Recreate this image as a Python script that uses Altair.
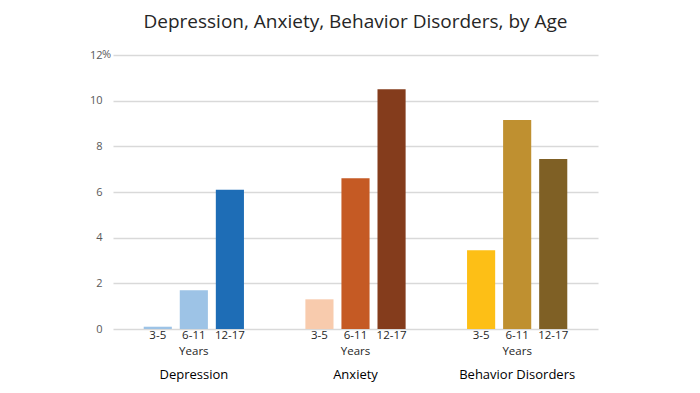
import altair as alt
import pandas as pd

categories = ["Depression", "Anxiety", "Behavior Disorders"]
ages = ["3-5", "6-11", "12-17"]
depression = [0.1, 1.7, 6.1]
anxiety = [1.3, 6.6, 10.5]
behavior = [3.45, 9.15, 7.45]
series = [depression, anxiety, behavior]
colors = [
    ["#9dc3e6", "#9dc3e6", "#1e6db6"],
    ["#f8cbad", "#c55a24", "#843c1c"],
    ["#fdbf16", "#bf9030", "#7f6025"],
]
y_ticks = [0, 2, 4, 6, 8, 10, 12]

rows = []
for ci, cat in enumerate(categories):
    for ai, age in enumerate(ages):
        rows.append({"category": cat, "age": age, "value": series[ci][ai],
                     "key": f"{cat}|{age}", "color": colors[ci][ai]})
df = pd.DataFrame(rows)
keys = list(df["key"])
cols = list(df["color"])

FONT = "Open Sans"
H = 274
W = 485

x_enc = alt.X("category:N", sort=categories,
              scale=alt.Scale(paddingInner=0.38, paddingOuter=0.19),
              axis=alt.Axis(title=None, labelAngle=0, ticks=False, domain=False,
                            labelPadding=39, labelFontSize=13, labelColor="#000000",
                            labelFont=FONT, grid=False))
xoff = alt.XOffset("age:N", sort=ages, scale=alt.Scale(paddingInner=0.22))

bars = alt.Chart(df).mark_bar().encode(
    x=x_enc,
    xOffset=xoff,
    y=alt.Y("value:Q", scale=alt.Scale(domain=[0, 12]),
            axis=alt.Axis(title=None, values=y_ticks, ticks=False, domain=False,
                          labelPadding=11, labelFontSize=11, labelColor="#595959",
                          labelFont=FONT, gridColor="#d9d9d9", gridWidth=1.5)),
    color=alt.Color("key:N", scale=alt.Scale(domain=keys, range=cols), legend=None),
)

age_labels = alt.Chart(df).mark_text(fontSize=11.5, font=FONT, color="#262626",
                                     baseline="top").encode(
    x=alt.X("category:N", sort=categories),
    xOffset=alt.XOffset("age:N", sort=ages),
    y=alt.value(H + 1),
    text="age:N",
)

years_df = pd.DataFrame({"category": categories, "label": ["Years"] * 3})
years = alt.Chart(years_df).mark_text(fontSize=11.5, font=FONT, color="#262626",
                                      baseline="top").encode(
    x=alt.X("category:N", sort=categories),
    y=alt.value(H + 17),
    text="label:N",
)

pct = alt.Chart(pd.DataFrame({"v": [12]})).mark_text(
    fontSize=11, font=FONT, color="#595959", align="left", baseline="middle"
).encode(x=alt.value(-11), y=alt.Y("v:Q"), text=alt.value("%"))

chart = alt.layer(bars, age_labels, years, pct).properties(
    width=W, height=H,
    title=alt.Title("Depression, Anxiety, Behavior Disorders, by Age",
                    fontSize=19, font=FONT, fontWeight="normal", color="#262626",
                    anchor="middle", offset=17),
    autosize=alt.AutoSizeParams(type="none"),
    padding={"left": 105, "top": 47, "right": 94, "bottom": 56},
).configure_view(stroke=None)

chart.save("out.html", embed_options={"renderer": "svg", "actions": False})
